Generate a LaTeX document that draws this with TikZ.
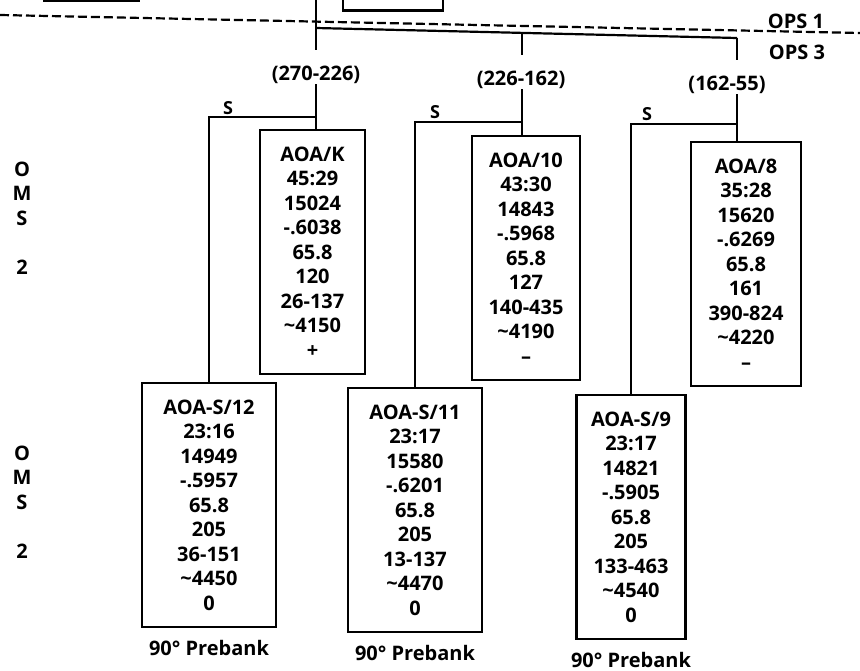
\documentclass[tikz,border=0pt]{standalone}
\usepackage{fontspec}
\setmainfont{Open Sans}
\usepackage{tikz}
\usetikzlibrary{positioning}

\begin{document}
\begin{tikzpicture}[
    x=1pt, y=-1pt,
    every node/.style={font=\bfseries\fontsize{20}{24.5}\selectfont, inner sep=0pt},
    databox/.style={draw, line width=2.2pt, align=center, minimum height=244pt, anchor=north},
    link/.style={line width=2.2pt},
    sidelbl/.style={align=center},
    slbl/.style={font=\bfseries\fontsize{18}{20}\selectfont}
]
\useasboundingbox (0,0) rectangle (860,671);

\draw[link] (43,1) -- (140,1);
\draw[link] (343,0) |- (443,10.5) -- (443,0);
\draw[link, dash pattern=on 9pt off 4pt] (0,15) -- (860,33);

\node (ops1) at (796,21) {OPS 1};
\node (ops3) at (797,52) {OPS 3};
\node[sidelbl] (omsup) at (22,218) {O\\M\\S\\[24.5pt]2};
\node[sidelbl] (omslo) at (22,502) {O\\M\\S\\[24.5pt]2};

\coordinate (stemtop) at (316,0);
\coordinate (busL) at (316,28);
\coordinate (busM) at (522,33);
\coordinate (busR) at (737,38);

\node (r1) at (316,75) {(270-226)};
\node (r2) at (521,80) {(226-162)};
\node (r3) at (727,85) {(162-55)};

\node[databox, minimum width=105pt] (aoak) at (312.5,129) {AOA/K\\45:29\\15024\\-.6038\\65.8\\120\\26-137\\\textasciitilde4150\\+};
\node[databox, minimum width=108pt] (aoa10) at (526,135) {AOA/10\\43:30\\14843\\-.5968\\65.8\\127\\140-435\\\textasciitilde4190\\\textendash};
\node[databox, minimum width=110pt] (aoa8) at (746,141) {AOA/8\\35:28\\15620\\-.6269\\65.8\\161\\390-824\\\textasciitilde4220\\\textendash};

\node[databox, minimum width=134pt] (aoas12) at (209,382) {AOA-S/12\\23:16\\14949\\-.5957\\65.8\\205\\36-151\\\textasciitilde4450\\0};
\node[databox, minimum width=134pt] (aoas11) at (415,387) {AOA-S/11\\23:17\\15580\\-.6201\\65.8\\205\\13-137\\\textasciitilde4470\\0};
\node[databox, minimum width=109pt] (aoas9) at (631,394) {AOA-S/9\\23:17\\14821\\-.5905\\65.8\\205\\133-463\\\textasciitilde4540\\0};

\node[below=12pt of aoas12] (pb12) {90° Prebank};
\node[below=12pt of aoas11] (pb11) {90° Prebank};
\node[below=12pt of aoas9] (pb9) {90° Prebank};

\coordinate (j1) at (316,117);
\coordinate (j2) at (522,122);
\coordinate (j3) at (737,124);
\node[slbl] (s1) at (228,108) {S};
\node[slbl] (s2) at (435,112) {S};
\node[slbl] (s3) at (647,114) {S};

\draw[link] (stemtop) -- (316,50);
\draw[link] (busL) -- (busR);
\draw[link] (busM) -- (522,55);
\draw[link] (busR) -- (737,60);

\draw[link] (r1.south) -- (r1.south |- aoak.north);
\draw[link] (r2.south -| busM) -- (aoa10.north -| busM);
\draw[link] (r3.south -| busR) -- (aoa8.north -| busR);

\draw[link] (j1) -| (aoas12.north);
\draw[link] (j2) -| (aoas11.north);
\draw[link] (j3) -| (aoas9.north);
\end{tikzpicture}
\end{document}
